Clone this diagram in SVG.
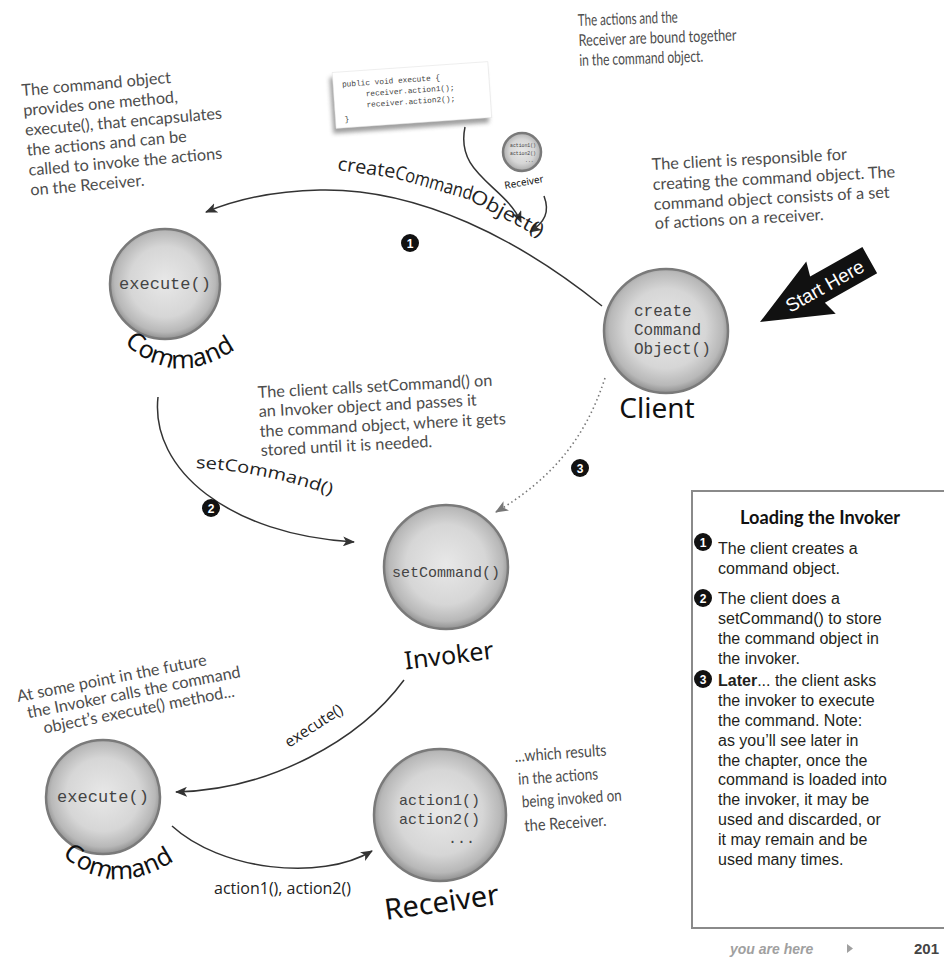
<svg xmlns="http://www.w3.org/2000/svg" width="944" height="966" viewBox="0 0 944 966">
<defs>
<radialGradient id="ball" cx="50%" cy="48%" r="52%">
<stop offset="0%" stop-color="#e8e8e8"/>
<stop offset="62%" stop-color="#d6d6d6"/>
<stop offset="88%" stop-color="#b8b8b8"/>
<stop offset="100%" stop-color="#909090"/>
</radialGradient>
<filter id="shadow" x="-20%" y="-30%" width="140%" height="160%"><feGaussianBlur stdDeviation="2"/></filter>
<marker id="arr" viewBox="0 0 12 10" refX="11" refY="5" markerWidth="12" markerHeight="10" markerUnits="userSpaceOnUse" orient="auto">
<path d="M0,0 L12,5 L0,10 L3,5 z" fill="#333"/>
</marker>
<marker id="arrg" viewBox="0 0 12 10" refX="11" refY="5" markerWidth="13" markerHeight="11" markerUnits="userSpaceOnUse" orient="auto">
<path d="M0,0 L12,5 L0,10 L3,5 z" fill="#777"/>
</marker>
<path id="pSet" d="M196,468 C240,470 290,480 336,497"/>
<path id="pCmd1" d="M124,343 Q180,395 248,340"/>
<path id="pCmd2" d="M62,855 Q118,905 186,852"/>
</defs>
<style>
.note{font-family:Lato,"Open Sans",sans-serif;font-size:16.3px;fill:#4d4d4d}
.mono{font-family:"Liberation Mono","DejaVu Sans Mono",monospace;fill:#444}
.lbl{font-family:"Open Sans","Noto Sans",sans-serif;fill:#222}
.hand{font-family:"Noto Sans","DejaVu Sans",sans-serif;fill:#111}
.line{fill:none;stroke:#333;stroke-width:1.5}
.ball{fill:url(#ball);stroke:#7a7a7a;stroke-width:2.5}
.badge circle{fill:#111}
.badge text{font-family:"Liberation Sans",sans-serif;font-weight:bold;font-size:12px;fill:#fff;text-anchor:middle}
.box{font-family:"Liberation Sans",Arial,sans-serif;font-size:16px;fill:#231f20}
</style>

<rect width="944" height="966" fill="#fff"/>

<!-- annotations -->
<g id="note-command" class="note" transform="rotate(-5 22 96)">
<text x="22" y="96">The command object</text>
<text x="22" y="116">provides one method,</text>
<text x="22" y="136">execute(), that encapsulates</text>
<text x="22" y="156">the actions and can be</text>
<text x="22" y="176">called to invoke the actions</text>
<text x="22" y="196">on the Receiver.</text>
</g>
<g id="note-bound" class="note" font-size="12.5" transform="rotate(-2 578 26)">
<text x="578" y="26" textLength="100" lengthAdjust="spacingAndGlyphs">The actions and the</text>
<text x="578" y="46" textLength="158" lengthAdjust="spacingAndGlyphs">Receiver are bound together</text>
<text x="578" y="66" textLength="124" lengthAdjust="spacingAndGlyphs">in the command object.</text>
</g>
<g id="note-client" class="note" transform="rotate(-3 652 170)">
<text x="652" y="170">The client is responsible for</text>
<text x="652" y="190">creating the command object.  The</text>
<text x="652" y="210">command object consists of a set</text>
<text x="652" y="229">of actions on a receiver.</text>
</g>
<g id="note-set" class="note" font-size="16" transform="rotate(-3 258 398)">
<text x="258" y="398">The client calls setCommand() on</text>
<text x="258" y="417">an Invoker object and passes it</text>
<text x="258" y="437">the command object, where it gets</text>
<text x="258" y="456">stored until it is needed.</text>
</g>
<g id="note-future" class="note" font-size="15.2" transform="rotate(-11 18 702)">
<text x="18" y="702">At some point in the future</text>
<text x="25" y="720">the Invoker calls the command</text>
<text x="38" y="738">object’s execute() method...</text>
</g>
<g id="note-results" class="note" font-size="13.5" transform="rotate(-4 515 762)">
<text x="515" y="762" textLength="92" lengthAdjust="spacingAndGlyphs">...which results</text>
<text x="517" y="785" textLength="80" lengthAdjust="spacingAndGlyphs">in the actions</text>
<text x="519" y="808" textLength="100" lengthAdjust="spacingAndGlyphs">being invoked on</text>
<text x="520" y="832" textLength="82" lengthAdjust="spacingAndGlyphs">the Receiver.</text>
</g>

<!-- code card -->
<g id="code-card" transform="rotate(-4 412 96)">
<rect x="331" y="72" width="156" height="56" fill="#777" opacity="0.7" filter="url(#shadow)"/>
<rect x="334" y="67" width="156" height="56" fill="#fff" stroke="#ddd" stroke-width="0.5"/>
<g class="mono" font-size="7.8" fill="#666">
<text x="343" y="82">public void execute {</text>
<text x="366" y="93">receiver.action1();</text>
<text x="366" y="104">receiver.action2();</text>
<text x="343" y="117">}</text>
</g>
</g>

<!-- small receiver -->
<g id="mini-receiver">
<circle cx="522" cy="152" r="19" class="ball" stroke-width="1.5"/>
<text class="mono" font-size="4.8" fill="#666"><tspan x="510" y="147">action1()</tspan><tspan x="510" y="154.5">action2()</tspan><tspan x="525" y="162">...</tspan></text>
<text x="505" y="189" class="hand" font-size="10" transform="rotate(-10 505 189)">Receiver</text>
</g>

<!-- connectors -->
<g id="connectors">
<path class="line" d="M602,306 C520,240 420,188 320,190 C270,191 235,200 206,212" marker-end="url(#arr)"/>
<path class="line" stroke-width="1.2" d="M465,127 C455,175 505,185 521,222" marker-end="url(#arr)"/>
<path class="line" stroke-width="1.2" d="M544,196 C550,212 545,222 530,232" marker-end="url(#arr)"/>
<path class="line" d="M158,397 C150,470 230,535 354,542" marker-end="url(#arr)"/>
<path fill="none" stroke="#777" stroke-width="1.6" stroke-dasharray="1.5 3" d="M605,378 C585,440 550,480 496,512" marker-end="url(#arrg)"/>
<path class="line" d="M404,680 C360,740 270,790 176,792" marker-end="url(#arr)"/>
<path class="line" d="M172,826 C220,870 320,882 372,851" marker-end="url(#arr)"/>
<g class="lbl" font-size="19">
<text x="337" y="170" textLength="58" lengthAdjust="spacingAndGlyphs" transform="rotate(8 337 170)">create</text>
<text x="394" y="178" textLength="80" lengthAdjust="spacingAndGlyphs" transform="rotate(16 394 178)">Command</text>
<text x="469" y="200" textLength="80" lengthAdjust="spacingAndGlyphs" transform="rotate(28 469 200)">Object()</text>
</g>
<text class="lbl" font-size="16.5"><textPath href="#pSet" textLength="138" lengthAdjust="spacingAndGlyphs">setCommand()</textPath></text>
<text class="lbl" font-size="15.5" x="289" y="748" transform="rotate(-33 289 748)">execute()</text>
<text class="lbl" font-size="16" x="214" y="894">action1(), action2()</text>
<g class="badge"><circle cx="410" cy="243" r="9"/><text x="410" y="247.5">1</text></g>
<g class="badge"><circle cx="211" cy="508" r="9"/><text x="211" y="512.5">2</text></g>
<g class="badge"><circle cx="580" cy="468" r="9"/><text x="580" y="472.5">3</text></g>
</g>

<!-- nodes -->
<g id="command-top">
<circle cx="165" cy="284" r="55" class="ball"/>
<text x="165" y="289" class="mono" font-size="17" text-anchor="middle">execute()</text>
<text class="hand" font-size="25"><textPath href="#pCmd1">Command</textPath></text>
</g>
<g id="client">
<circle cx="666" cy="331" r="62" class="ball"/>
<text class="mono" font-size="16"><tspan x="634" y="316">create</tspan><tspan x="634" y="335">Command</tspan><tspan x="634" y="354">Object()</tspan></text>
<text x="657" y="418" class="hand" font-size="28" text-anchor="middle">Client</text>
</g>
<g id="start-here" transform="translate(760 322) rotate(-29.4)">
<polygon points="0,0 70,-30 66,-15 126,-15 126,15 66,15 70,30" fill="#111"/>
<text x="74" y="7" font-family="Liberation Sans,Arial,sans-serif" font-size="19" fill="#fff" text-anchor="middle">Start Here</text>
</g>
<g id="invoker">
<circle cx="446" cy="567" r="62" class="ball"/>
<text x="446" y="577" class="mono" font-size="15" text-anchor="middle">setCommand()</text>
<text x="450" y="664" class="hand" font-size="25" text-anchor="middle" transform="rotate(-7 450 664)">Invoker</text>
</g>
<g id="command-bottom">
<circle cx="103" cy="797" r="57" class="ball"/>
<text x="103" y="802" class="mono" font-size="17" text-anchor="middle">execute()</text>
<text class="hand" font-size="25"><textPath href="#pCmd2">Command</textPath></text>
</g>
<g id="receiver">
<circle cx="440" cy="815" r="66" class="ball"/>
<text class="mono" font-size="15"><tspan x="399" y="805">action1()</tspan><tspan x="399" y="824">action2()</tspan><tspan x="448" y="843">...</tspan></text>
<text x="443" y="912" class="hand" font-size="29" text-anchor="middle" transform="rotate(-8 443 912)">Receiver</text>
</g>

<!-- sidebar box -->
<g id="sidebar">
<path d="M944,491 L692,491 L692,928 L944,928" fill="none" stroke="#8a8a8a" stroke-width="2"/>
<text x="740" y="524" font-family="Lato,sans-serif" font-weight="bold" font-size="19" fill="#111" textLength="160" lengthAdjust="spacingAndGlyphs">Loading the Invoker</text>
<g class="badge"><circle cx="703" cy="542" r="9"/><text x="703" y="546.5">1</text></g>
<g class="badge"><circle cx="703" cy="598" r="9"/><text x="703" y="602.5">2</text></g>
<g class="badge"><circle cx="703" cy="679" r="9"/><text x="703" y="683.5">3</text></g>
<g class="box">
<text x="718" y="554">The client creates a</text>
<text x="718" y="574">command object.</text>
<text x="718" y="604">The client does a</text>
<text x="718" y="624">setCommand() to store</text>
<text x="718" y="644">the command object in</text>
<text x="718" y="664">the invoker.</text>
<text x="718" y="686"><tspan font-weight="bold">Later</tspan>... the client asks</text>
<text x="718" y="706">the invoker to execute</text>
<text x="718" y="726">the command. Note:</text>
<text x="718" y="746">as you’ll see later in</text>
<text x="718" y="766">the chapter, once the</text>
<text x="718" y="785">command is loaded into</text>
<text x="718" y="805">the invoker, it may be</text>
<text x="718" y="825">used and discarded, or</text>
<text x="718" y="845">it may remain and be</text>
<text x="718" y="865">used many times.</text>
</g>
</g>

<!-- footer -->
<g id="footer">
<text x="730" y="954" font-family="Liberation Sans,Arial,sans-serif" font-style="italic" font-weight="bold" font-size="14" fill="#a0a0a0">you are here</text>
<polygon points="847,944 853,948.5 847,953" fill="#a0a0a0"/>
<text x="914" y="954" font-family="Liberation Sans,Arial,sans-serif" font-weight="bold" font-size="15" fill="#444">201</text>
</g>
</svg>
